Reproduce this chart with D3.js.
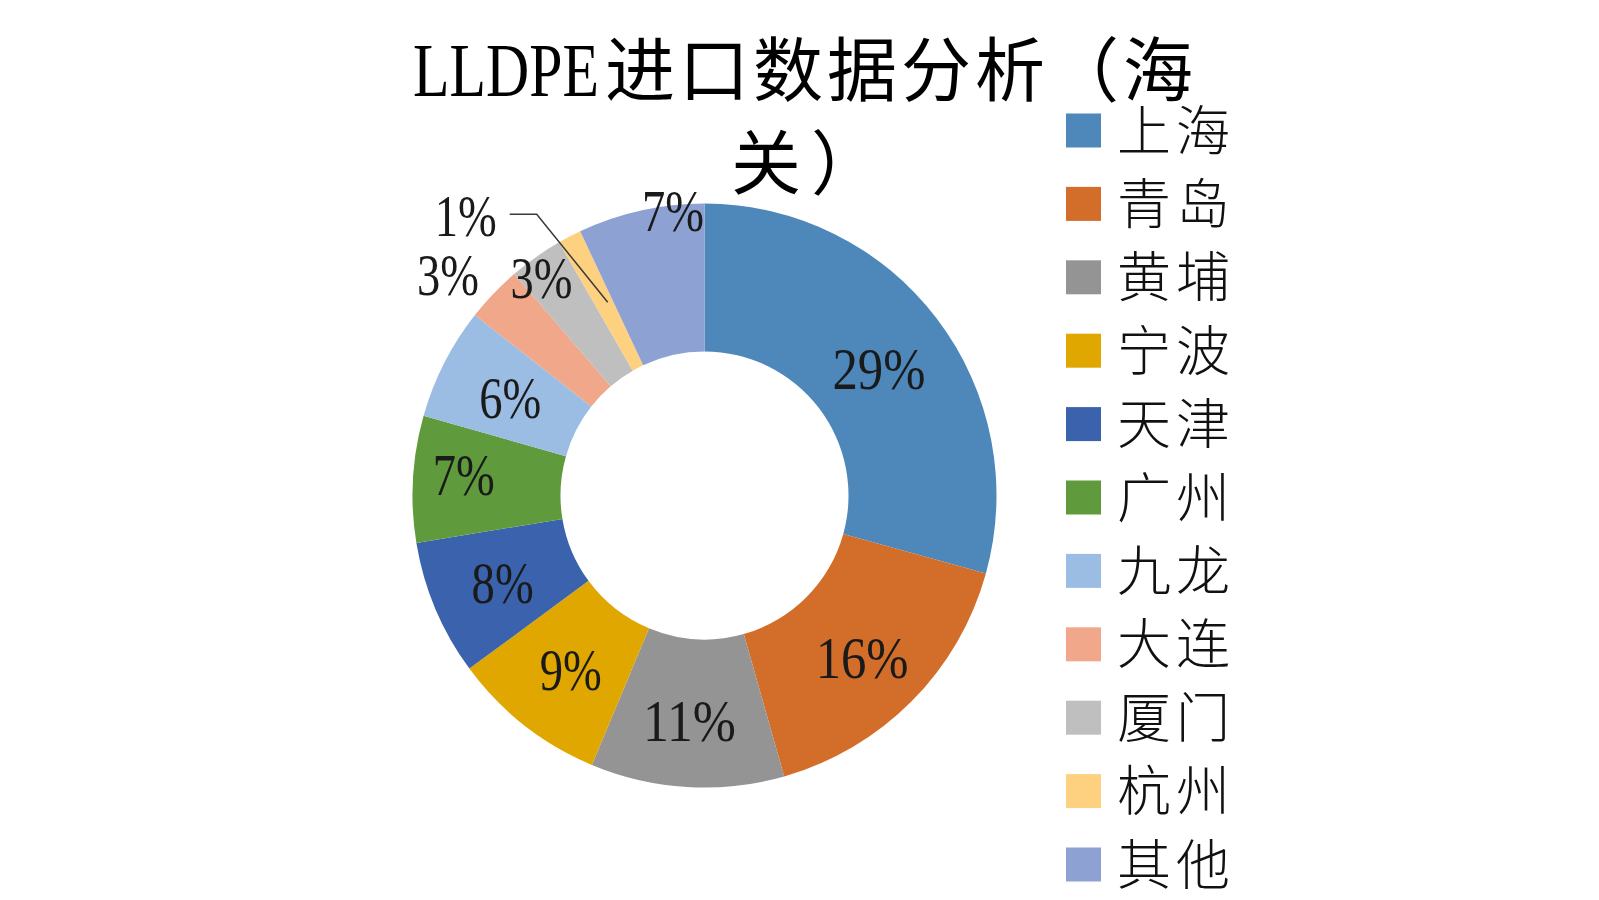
<!DOCTYPE html>
<html>
<head>
<meta charset="utf-8">
<script src="https://cdn.jsdelivr.net/npm/d3@7"></script>
<style>
  html, body { margin: 0; padding: 0; background: #fff; }
  svg { display: block; }
</style>
</head>
<body>
<svg id="chart" width="1599" height="900"></svg>
<script>
// ---- data ----
const categories = ["上海", "青岛", "黄埔", "宁波", "天津", "广州", "九龙", "大连", "厦门", "杭州", "其他"];
const shares = [29.3, 16.3, 10.7, 8.6, 7.5, 7.0, 6.2, 3.1, 3.0, 1.3, 7.0];
const colors = ["#4e87ba", "#d26e2a", "#949494", "#e0a700", "#3b62ac", "#5f9a3c",
                "#9bbde3", "#f0a78a", "#bfbfbf", "#fed181", "#8ea1d3"];
const titleLatin = "LLDPE";
const titleLine1 = "进口数据分析（海";
const titleLine2 = "关）";

// ---- layout ----
const cx = 704.5, cy = 495.5, outerR = 292, innerR = 144;
// label nudges relative to slice centroid (layout only)
const labelNudge = [[1,5],[3,9],[-2,8],[1,3],[-1,3],[-23,-8],[0,1],[-99,-70],[-37,-40],[-138,-86],[16,-72]];

const svg = d3.select("#chart");

// title: condensed Latin run, then CJK run
const latin = svg.append("text")
  .attr("x", 0).attr("y", 0)
  .attr("font-family", "'Liberation Serif', serif")
  .attr("font-size", 76)
  .attr("fill", "#000")
  .text(titleLatin);
const natW = latin.node().getComputedTextLength();
latin.attr("transform", `translate(413,96) scale(${186 / natW},1)`);

svg.append("text")
  .attr("x", 605).attr("y", 96)
  .attr("font-family", "'Noto Sans CJK SC', sans-serif")
  .attr("font-size", 70)
  .attr("letter-spacing", 4)
  .attr("fill", "#000")
  .text(titleLine1);
svg.append("text")
  .attr("x", 731).attr("y", 189)
  .attr("font-family", "'Noto Sans CJK SC', sans-serif")
  .attr("font-size", 70)
  .attr("letter-spacing", 10)
  .attr("fill", "#000")
  .text(titleLine2);

// donut
const pie = d3.pie().sort(null).value(d => d)
  .startAngle(0).endAngle(2 * Math.PI);
const arcs = pie(shares);
const arc = d3.arc().innerRadius(innerR).outerRadius(outerR);

const g = svg.append("g").attr("transform", `translate(${cx},${cy})`);
g.selectAll("path.slice")
  .data(arcs)
  .join("path")
  .attr("class", "slice")
  .attr("d", arc)
  .attr("fill", (d, i) => colors[i]);

// labels
const fmt = v => Math.round(v) + "%";
const labelPos = arcs.map((d, i) => {
  const c = arc.centroid(d);
  return [c[0] + labelNudge[i][0], c[1] + labelNudge[i][1]];
});

// leader line for the tiny slice (杭州)
const tiny = 9;
{
  const p = labelPos[tiny];
  const c = arc.centroid(arcs[tiny]);
  g.append("polyline")
    .attr("points", [[p[0] + 44, p[1] - 2], [p[0] + 71, p[1] - 2], [c[0] + 4, c[1]]].map(q => q.join(",")).join(" "))
    .attr("fill", "none")
    .attr("stroke", "#3a3a3a")
    .attr("stroke-width", 1.5);
}

g.selectAll("text.lbl")
  .data(arcs)
  .join("text")
  .attr("class", "lbl")
  .attr("x", (d, i) => labelPos[i][0])
  .attr("y", (d, i) => labelPos[i][1] + 20)
  .attr("text-anchor", "middle")
  .attr("font-family", "'Liberation Serif', serif")
  .attr("font-size", 60)
  .attr("fill", "#1a1a1a")
  .attr("textLength", (d, i) => fmt(shares[i]).length * 31)
  .attr("lengthAdjust", "spacingAndGlyphs")
  .text((d, i) => fmt(shares[i]));

// legend
const legendY = d3.scalePoint().domain(categories).range([130.5, 864.5]);
const lg = svg.append("g");
lg.selectAll("rect")
  .data(categories)
  .join("rect")
  .attr("x", 1066)
  .attr("y", d => legendY(d) - 17)
  .attr("width", 35)
  .attr("height", 34)
  .attr("fill", (d, i) => colors[i]);
lg.selectAll("text")
  .data(categories)
  .join("text")
  .attr("x", 1117)
  .attr("y", d => legendY(d) + 20)
  .attr("font-family", "'Noto Sans CJK SC', sans-serif")
  .attr("font-size", 54)
  .attr("font-weight", 300)
  .attr("letter-spacing", 5)
  .attr("fill", "#111")
  .text(d => d);
</script>
</body>
</html>
